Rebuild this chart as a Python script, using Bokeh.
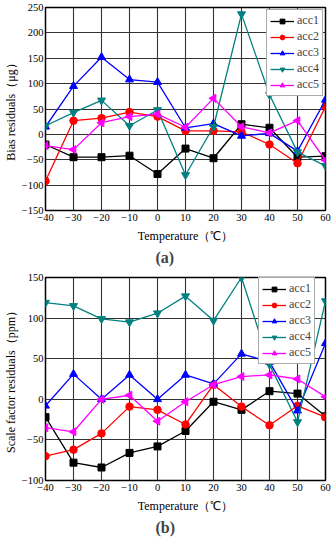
from bokeh.plotting import figure
from bokeh.layouts import column
from bokeh.models import Title, Legend, LegendItem, SingleIntervalTicker, Range1d
from bokeh.embed import file_html
from bokeh.resources import INLINE
import math

temps = [-40, -30, -20, -10, 0, 10, 20, 30, 40, 50, 60]
series_names = ["acc1", "acc2", "acc3", "acc4", "acc5"]

# (a) Bias residuals (ug)
bias_acc1 = [-20, -45, -45, -42, -78, -28, -47, 20, 13, -45, -43]
bias_acc2 = [-92, 27, 32, 44, 35, 7, 7, 5, -20, -57, 55]
bias_acc3 = [15, 95, 152, 108, 103, 13, 21, -3, 2, -33, 68]
bias_acc4 = [17, 43, 67, 17, 48, -80, 15, 237, 78, -35, -62]
bias_acc5 = [-22, -30, 23, 35, 40, 14, 71, 15, 3, 27, -51]

# (b) Scale factor residuals (ppm)
sf_acc1 = [-22, -78, -84, -66, -58, -39, -3, -13, 10, 7, -21]
sf_acc2 = [-70, -62, -42, -9, -13, -31, 18, -9, -32, -8, -22]
sf_acc3 = [-8, 31, 0, 30, 0, 30, 19, 56, 46, -14, 69]
sf_acc4 = [119, 115, 99, 95, 106, 127, 97, 150, 43, -28, 121]
sf_acc5 = [-35, -40, 0, 5, -27, -3, 18, 28, 30, 25, 3]

colors = ["#000000", "#ff0000", "#0000ff", "#008080", "#ff00ff"]
markers = ["square", "circle", "triangle", "inverted_triangle", "triangle"]
angles = [0, 0, 0, 0, math.pi / 2]
msizes = [7, 7.5, 8, 8, 8]

SERIF = "Liberation Serif"
FH = 203
FW = 280


def make_panel(ys, y0, y1, ylabel, tag, top_border, legend_loc):
    p = figure(frame_width=FW, frame_height=FH, output_backend="svg",
               toolbar_location=None, x_range=Range1d(-40, 60),
               y_range=Range1d(y0, y1), min_border_left=37, min_border_right=7,
               min_border_top=top_border, min_border_bottom=0)
    p.xaxis.ticker = SingleIntervalTicker(interval=10)
    p.yaxis.ticker = SingleIntervalTicker(interval=50)
    for ax in (p.xaxis[0], p.yaxis[0]):
        ax.major_label_text_font = SERIF
        ax.major_label_text_font_size = "10.5px"
        ax.major_label_text_color = "#000000"
        ax.axis_label_text_font = SERIF
        ax.axis_label_text_font_size = "12px"
        ax.axis_label_text_font_style = "normal"
        ax.axis_label_text_color = "#000000"
        ax.major_tick_out = 0
        ax.major_tick_in = 0
        ax.minor_tick_out = 0
        ax.minor_tick_in = 0
        ax.axis_line_color = None
        ax.major_label_standoff = 3
    p.yaxis.major_label_standoff = 2
    p.xaxis.axis_label = "Temperature（℃）"
    p.xaxis.axis_label_standoff = 5
    p.yaxis.axis_label = ylabel
    p.yaxis.axis_label_standoff = 1
    p.xgrid.grid_line_color = "#333333"
    p.ygrid.grid_line_color = "#333333"
    p.xgrid.grid_line_width = 1.1
    p.ygrid.grid_line_width = 1.1
    p.outline_line_color = "#000000"
    p.outline_line_width = 1.5
    p.background_fill_color = "#ffffff"
    p.border_fill_color = "#ffffff"

    items = []
    for name, yv, c, m, a, s in zip(series_names, ys, colors, markers, angles, msizes):
        r1 = p.line(temps, yv, line_color=c, line_width=1.3)
        r2 = p.scatter(temps, yv, marker=m, angle=a, size=s, fill_color=c,
                       line_color=c)
        items.append(LegendItem(label=name, renderers=[r1, r2]))
    leg = Legend(items=items, location=legend_loc, label_text_font=SERIF,
                 label_text_font_size="12px", glyph_width=24, glyph_height=12,
                 label_height=12, spacing=1, padding=3, margin=2,
                 label_standoff=3, border_line_color="#555555",
                 border_line_width=1, background_fill_alpha=1)
    p.add_layout(leg, "center")
    p.add_layout(Title(text=tag, align="left", offset=110,
                       text_font=SERIF, text_font_size="16px",
                       text_font_style="bold", standoff=3), "below")
    return p


pa = make_panel([bias_acc1, bias_acc2, bias_acc3, bias_acc4, bias_acc5],
                -150, 250, "Bias residuals（μg）", "(a)", 7, "top_right")
pb = make_panel([sf_acc1, sf_acc2, sf_acc3, sf_acc4, sf_acc5],
                -100, 150, "Scale factor residuals（ppm）", "(b)", 10,
                (FW - 10 - 57, FH - 87))

layout = column(pa, pb, spacing=0)
open("out.html", "w").write(file_html(layout, INLINE))
